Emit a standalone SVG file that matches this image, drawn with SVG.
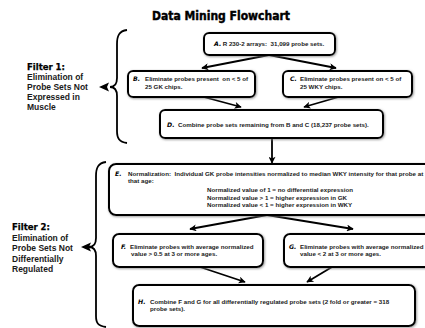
<svg xmlns="http://www.w3.org/2000/svg" width="425" height="328" viewBox="0 0 425 328">
<style>
.title{font-family:"DejaVu Sans","Liberation Sans",sans-serif;font-weight:bold;font-size:12px;fill:#000;stroke:#000;stroke-width:0.45}
.fh{font-family:"DejaVu Sans","Liberation Sans",sans-serif;font-weight:bold;font-size:8.5px;fill:#000;stroke:#000;stroke-width:0.25}
.ft{font-family:"Liberation Sans",Arial,sans-serif;font-weight:bold;font-size:8.5px;fill:#1a1a1a}
.box{fill:#fff;stroke:#000;stroke-width:2}
.t{font-family:"Liberation Sans",Arial,sans-serif;font-weight:bold;font-size:6.2px;fill:#1a1a1a;white-space:pre}
.lb{font-family:"DejaVu Sans","Liberation Sans",sans-serif;font-weight:bold;font-style:italic;font-size:6.2px;fill:#000}
.ln{fill:none;stroke:#000;stroke-width:1.8}
.br{fill:none;stroke:#000;stroke-width:1.8}
</style>
<defs>
<filter id="sh" x="-10%" y="-20%" width="120%" height="140%">
<feDropShadow dx="0.8" dy="0.8" stdDeviation="0.8" flood-color="#777" flood-opacity="0.8"/>
</filter>
<marker id="ah" viewBox="0 0 10 10" refX="9" refY="5" markerWidth="8" markerHeight="7" markerUnits="userSpaceOnUse" orient="auto">
<path d="M0,0 L10,5 L0,10 L2.5,5 z" fill="#000"/>
</marker>
</defs>
<rect width="425" height="328" fill="#fff"/>
<text class="title" x="221" y="19.5" text-anchor="middle" textLength="138" lengthAdjust="spacingAndGlyphs">Data Mining Flowchart</text>

<g id="filter1">
<text class="fh" x="27" y="70">Filter 1:</text>
<text class="ft" x="27" y="80">Elimination of</text>
<text class="ft" x="27" y="90">Probe Sets Not</text>
<text class="ft" x="27" y="100">Expressed in</text>
<text class="ft" x="27" y="110">Muscle</text>
<path class="br" d="M127,30 C119,31 117,36 117,44 L117,78 C117,84 114,87 110,87 C114,87 117,90 117,96 L117,131 C117,138 119,142 127,143"/>
<polygon points="99,87 109,82.5 107,87 109,91.5" fill="#000"/>
</g>

<g id="filter2">
<text class="fh" x="12" y="230">Filter 2:</text>
<text class="ft" x="12" y="240.5">Elimination of</text>
<text class="ft" x="12" y="251">Probe Sets Not</text>
<text class="ft" x="12" y="261.5">Differentially</text>
<text class="ft" x="12" y="272">Regulated</text>
<path class="br" d="M106,162 C98,163 96,168 96,176 L96,238 C96,244 93,247 89,247 C93,247 96,250 96,256 L96,316 C96,323 98,326 106,327"/>
<polygon points="81,247 91,242.5 89,247 91,251.5" fill="#000"/>
</g>

<g id="connectors">
<line class="ln" x1="269" y1="55" x2="202" y2="68" marker-end="url(#ah)"/>
<line class="ln" x1="269" y1="55" x2="336" y2="68" marker-end="url(#ah)"/>
<line class="ln" x1="200" y1="96" x2="241" y2="107" marker-end="url(#ah)"/>
<line class="ln" x1="342" y1="96" x2="304" y2="107" marker-end="url(#ah)"/>
<line class="ln" x1="272" y1="138" x2="272" y2="163" marker-end="url(#ah)"/>
<line class="ln" x1="267" y1="215" x2="190" y2="229" marker-end="url(#ah)"/>
<line class="ln" x1="267" y1="215" x2="353" y2="229" marker-end="url(#ah)"/>
<line class="ln" x1="200" y1="267" x2="245" y2="282" marker-end="url(#ah)"/>
<line class="ln" x1="332" y1="267" x2="307" y2="282" marker-end="url(#ah)"/>
</g>

<g id="nodeA">
<rect class="box" filter="url(#sh)" x="204" y="33" width="131" height="22" rx="5"/>
<text class="lb" x="214" y="46.2">A.</text>
<text class="t" x="221" y="46.2"> R 230-2 arrays:  31,099 probe sets.</text>
</g>
<g id="nodeB">
<rect class="box" filter="url(#sh)" x="128" y="71" width="127" height="26" rx="5"/>
<text class="lb" x="133" y="81">B.</text>
<text class="t" x="145" y="81">Eliminate probes present  on &lt; 5 of</text>
<text class="t" x="145" y="88.5">25 GK chips.</text>
</g>
<g id="nodeC">
<rect class="box" filter="url(#sh)" x="283" y="71" width="129" height="26" rx="5"/>
<text class="lb" x="290" y="81">C.</text>
<text class="t" x="300" y="81">Eliminate probes present on &lt; 5 of</text>
<text class="t" x="300" y="88.5">25 WKY chips.</text>
</g>
<g id="nodeD">
<rect class="box" filter="url(#sh)" x="160" y="110" width="223" height="28" rx="5"/>
<text class="lb" x="167" y="127">D.</text>
<text class="t" x="178" y="127">Combine probe sets remaining from B and C (18,237 probe sets).</text>
</g>
<g id="nodeE">
<rect class="box" filter="url(#sh)" x="109" y="164" width="340" height="51" rx="7"/>
<text class="lb" x="115" y="176.3">E.</text>
<text class="t" x="128" y="176.3">Normalization:  Individual GK probe intensities normalized to median WKY intensity for that probe at</text>
<text class="t" x="128" y="183">that age:</text>
<text class="t" x="207" y="192">Normalized value of 1 = no differential expression</text>
<text class="t" x="207" y="199.5">Normalized value &gt; 1 = higher expression in GK</text>
<text class="t" x="207" y="207">Normalized value &lt; 1 = higher expression in WKY</text>
</g>
<g id="nodeF">
<rect class="box" filter="url(#sh)" x="113" y="234" width="150" height="33" rx="6"/>
<text class="lb" x="121" y="249">F.</text>
<text class="t" x="130" y="249">Eliminate probes with average normalized</text>
<text class="t" x="131" y="255.5">value &gt; 0.5 at 3 or more ages.</text>
</g>
<g id="nodeG">
<rect class="box" filter="url(#sh)" x="284" y="234" width="160" height="33" rx="6"/>
<text class="lb" x="289" y="249">G.</text>
<text class="t" x="300" y="249">Eliminate probes with average normalized</text>
<text class="t" x="300" y="255.5">value &lt; 2 at 3 or more ages.</text>
</g>
<g id="nodeH">
<rect class="box" filter="url(#sh)" x="133" y="285" width="282" height="41" rx="6"/>
<text class="lb" x="138" y="304">H.</text>
<text class="t" x="150" y="304">Combine F and G for all differentially regulated probe sets (2 fold or greater = 318</text>
<text class="t" x="150" y="311">probe sets).</text>
</g>
</svg>
